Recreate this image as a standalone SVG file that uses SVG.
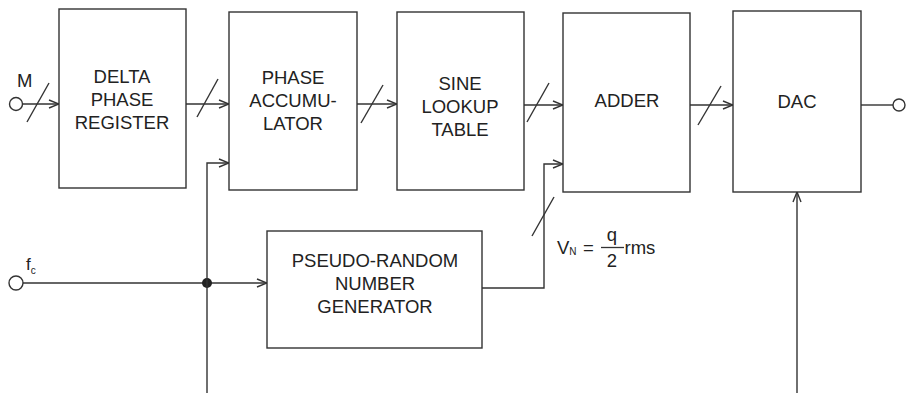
<svg xmlns="http://www.w3.org/2000/svg" width="906" height="393" viewBox="0 0 906 393">
<style>
.box{fill:#fff;stroke:#333;stroke-width:1.4}
.ln{fill:none;stroke:#333;stroke-width:1.4}
.t{font-family:"Liberation Sans",Arial,sans-serif;font-size:18.5px;fill:#222;text-anchor:middle}
.s{font-family:"Liberation Sans",Arial,sans-serif;fill:#222}
</style>
<defs>
<marker id="ar" markerUnits="userSpaceOnUse" markerWidth="12" markerHeight="10" refX="11" refY="5" orient="auto">
<path d="M1,1 L11,5 L1,9" fill="none" stroke="#333" stroke-width="1.4"/>
</marker>
<linearGradient id="fade" x1="0" x2="1" y1="0" y2="0">
<stop offset="0" stop-color="#fff"/>
<stop offset="1" stop-color="#999"/>
</linearGradient>
</defs>
<g id="connectors">
<circle cx="16" cy="104" r="6.5" class="ln"/>
<line x1="22.5" y1="104" x2="59" y2="104" class="ln" marker-end="url(#ar)"/>
<line x1="27" y1="122" x2="49" y2="83" class="ln"/>
<line x1="186" y1="104" x2="229" y2="104" class="ln" marker-end="url(#ar)"/>
<line x1="197" y1="117" x2="218" y2="79" class="ln"/>
<line x1="357" y1="104" x2="397" y2="104" class="ln" marker-end="url(#ar)"/>
<line x1="361" y1="123" x2="383" y2="85" class="ln"/>
<line x1="524" y1="105" x2="563" y2="105" class="ln" marker-end="url(#ar)"/>
<line x1="527" y1="122" x2="549" y2="83" class="ln"/>
<line x1="690" y1="105" x2="733" y2="105" class="ln" marker-end="url(#ar)"/>
<line x1="698" y1="125" x2="721" y2="86" class="ln"/>
<line x1="861" y1="105" x2="893" y2="105" class="ln"/>
<circle cx="899" cy="105" r="6" class="ln"/>
<circle cx="16" cy="283" r="7" class="ln"/>
<line x1="23" y1="283" x2="267" y2="283" class="ln" marker-end="url(#ar)"/>
<circle cx="207" cy="283" r="5" fill="#222"/>
<polyline points="207,393 207,163 229,163" class="ln" marker-end="url(#ar)"/>
<polyline points="482,288 544,288 544,164 563,164" class="ln" marker-end="url(#ar)"/>
<line x1="532" y1="236" x2="554" y2="197" class="ln"/>
<line x1="797" y1="393" x2="797" y2="192" class="ln" marker-end="url(#ar)"/>
<line x1="455" y1="392.3" x2="797" y2="392.3" stroke="url(#fade)" stroke-width="1.4"/>
</g>
<g id="delta-phase-register">
<rect x="59" y="9" width="127" height="179" class="box"/>
<text class="t" x="122" y="83">DELTA</text>
<text class="t" x="122" y="106">PHASE</text>
<text class="t" x="122" y="129">REGISTER</text>
</g>
<g id="phase-accumulator">
<rect x="229" y="12" width="128" height="178" class="box"/>
<text class="t" x="293" y="84">PHASE</text>
<text class="t" x="293" y="107">ACCUMU-</text>
<text class="t" x="293" y="130">LATOR</text>
</g>
<g id="sine-lookup-table">
<rect x="397" y="12" width="127" height="178" class="box"/>
<text class="t" x="460" y="90">SINE</text>
<text class="t" x="460" y="113">LOOKUP</text>
<text class="t" x="460" y="136">TABLE</text>
</g>
<g id="adder">
<rect x="563" y="13" width="127" height="179" class="box"/>
<text class="t" x="627" y="107">ADDER</text>
</g>
<g id="dac">
<rect x="733" y="11" width="128" height="181" class="box"/>
<text class="t" x="797" y="108">DAC</text>
</g>
<g id="prng">
<rect x="267" y="231" width="215" height="117" class="box"/>
<text class="t" x="375" y="267">PSEUDO-RANDOM</text>
<text class="t" x="375" y="290">NUMBER</text>
<text class="t" x="375" y="313">GENERATOR</text>
</g>
<g id="labels">
<text class="s" x="17" y="87" font-size="18.5">M</text>
<text class="s" x="26" y="270" font-size="17">f<tspan font-size="10" dy="4">c</tspan></text>
<text class="s" x="557" y="254" font-size="18.5">V<tspan font-size="10" dy="1">N</tspan></text>
<text class="s" x="583" y="254" font-size="18.5">=</text>
<line x1="601" y1="247.5" x2="624" y2="247.5" stroke="#333" stroke-width="1.3"/>
<text class="s" x="612" y="241" font-size="18.5" text-anchor="middle">q</text>
<text class="s" x="612" y="267" font-size="18.5" text-anchor="middle">2</text>
<text class="s" x="624.5" y="254" font-size="18.5">rms</text>
</g>
</svg>
